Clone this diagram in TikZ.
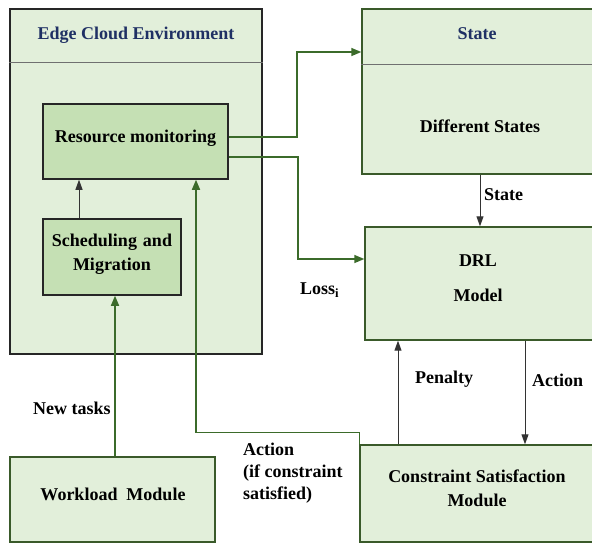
\documentclass[tikz,border=0pt]{standalone}
\usepackage{fontspec}
\setmainfont{Liberation Serif}
\usetikzlibrary{arrows.meta}
\definecolor{lightg}{HTML}{E2EFDA}
\definecolor{midg}{HTML}{C5E0B4}
\definecolor{lineg}{HTML}{3B6B2A}
\definecolor{titleb}{HTML}{1F3064}
\definecolor{boxedge}{HTML}{3A5A2A}
\definecolor{hdr}{HTML}{707070}
\begin{document}
\begin{tikzpicture}[x=1pt,y=-1pt,
  font=\bfseries\fontsize{18}{21}\selectfont,
  box/.style={draw=boxedge, line width=1.4pt, fill=lightg, inner sep=0pt},
  darkbox/.style={draw=black!85, line width=1.5pt, inner sep=0pt},
  lbl/.style={inner sep=0pt, align=center},
  garrow/.style={draw=lineg, line width=1.5pt, -{Triangle[length=10pt,width=8pt]}},
  barrow/.style={draw=black!80, line width=1pt, -{Triangle[length=10pt,width=7pt]}}]
\useasboundingbox (0,0) rectangle (592,544);
\clip (0,0) rectangle (592,544);
% Edge cloud environment
\node[darkbox, fill=lightg, minimum width=252pt, minimum height=345pt] (edge) at (136,181.5) {};
\draw[hdr, line width=1.2pt] ([yshift=-54pt]edge.north west) -- ([yshift=-54pt]edge.north east);
\node[lbl, text=titleb] (edgetitle) at (136,35) {Edge Cloud Environment};
\node[darkbox, fill=midg, minimum width=185pt, minimum height=75pt] (res) at (135.5,141.5) {};
\node[lbl] (restext) at (135.5,138) {Resource monitoring};
\node[darkbox, fill=midg, minimum width=138pt, minimum height=76pt] (sched) at (112,257) {};
\node[lbl, text width=136pt] (schedtext) at (112,254) {Scheduling and\\[3pt] Migration};
% State
\node[box, minimum width=240pt, minimum height=165pt] (state) at (482,91.5) {};
\draw[hdr, line width=1.2pt] ([yshift=-56pt]state.north west) -- ([yshift=-56pt]state.north east);
\node[lbl, text=titleb] (statetitle) at (477,34) {State};
\node[lbl] (difftext) at (480,126) {Different States};
% DRL
\node[box, minimum width=237pt, minimum height=113pt] (drl) at (483.5,283.5) {};
\node[lbl] (drltext) at (478,278) {DRL\\[14pt] Model};
% Workload
\node[box, minimum width=205pt, minimum height=85pt] (work) at (112.5,499.5) {};
\node[lbl] (worktext) at (113,494) {Workload\ \ Module};
% Constraint
\node[box, minimum width=242pt, minimum height=97pt] (cons) at (481,493.5) {};
\node[lbl] (constext) at (477,488) {Constraint Satisfaction\\[3pt] Module};
% connectors
\draw[barrow] ([xshift=-33pt]sched.north) -- ([xshift=-33pt]sched.north |- res.south);
\draw[garrow] ([xshift=3pt]sched.south |- work.north) -- ([xshift=3pt]sched.south);
\draw[garrow] ([yshift=4.5pt]res.east) -- ++(68,0) |- ([yshift=39.5pt]state.west);
\draw[garrow] ([yshift=-15.5pt]res.east) -- ++(69,0) |- ([yshift=24.5pt]drl.west);
\draw[barrow] ([xshift=-2pt]state.south) -- ([xshift=-2pt]state.south |- drl.north);
\draw[barrow] ([xshift=44pt]cons.north |- drl.south) -- ([xshift=44pt]cons.north);
\draw[barrow] ([xshift=-83pt]cons.north) -- ([xshift=-83pt]cons.north |- drl.south);
\draw[garrow] (cons.north west) -- ++(0,-12) -| ([xshift=60.5pt]res.south);
% labels
\node[lbl, anchor=west] (lstate) at (484,195) {State};
\node[lbl, anchor=west] (laction) at (532,380) {Action};
\node[lbl, anchor=west] (lpenalty) at (415,379) {Penalty};
\node[lbl, anchor=west] (lnew) at (33,408) {New tasks};
\node[lbl, anchor=west] (lloss) at (300,290) {Loss\textsubscript{i}};
\node[lbl, anchor=north west, align=left] (lact2) at (243,443) {Action\\[1pt] (if constraint\\[1pt] satisfied)};
\end{tikzpicture}
\end{document}
